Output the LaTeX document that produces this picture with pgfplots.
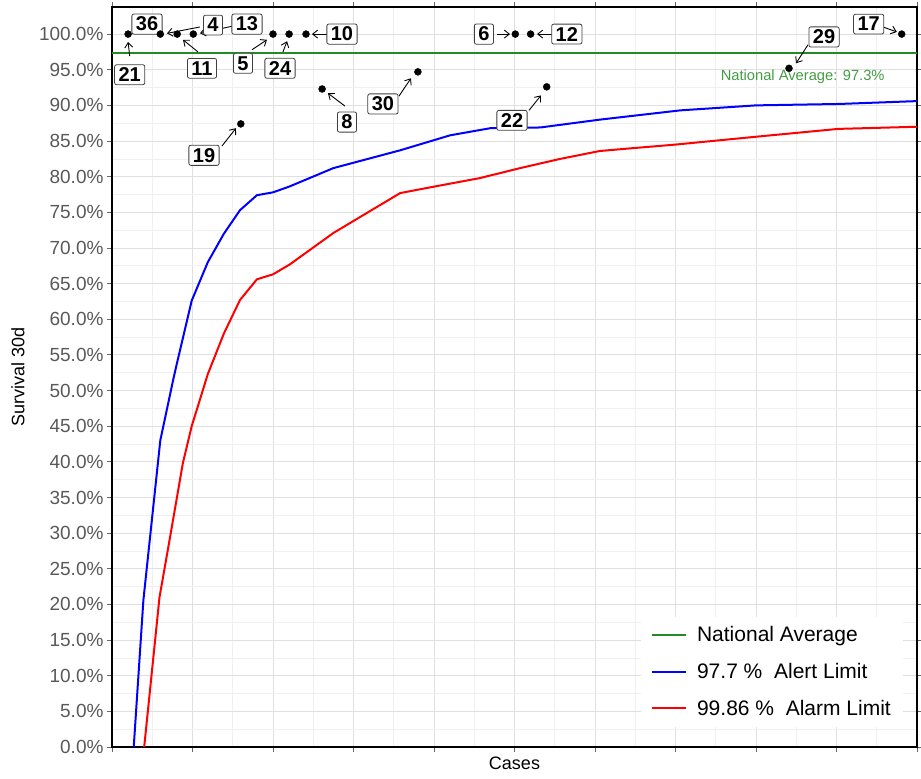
\documentclass[border=0pt]{standalone}
\usepackage{pgfplots}
\pgfplotsset{compat=1.18}
\usetikzlibrary{arrows.meta}
\usepackage{fontspec}
\setmainfont{Liberation Sans}
\definecolor{natgreen}{RGB}{34,139,34}
\begin{document}
\begin{tikzpicture}[
  lbl/.style={draw=black!75, fill=white, rounded corners=2pt, line width=0.8pt,
    font=\bfseries\fontsize{20}{22}\selectfont, inner xsep=4pt, inner ysep=3pt},
  arr/.style={-{Straight Barb[length=5pt,width=8pt]}, line width=0.9pt, black}
]
\begin{axis}[
  scale only axis, width=805pt, height=740pt,
  xmin=0, xmax=100, ymin=0, ymax=103.8,
  xtick={0,10,...,100}, minor xtick={5,15,...,95}, xticklabels={},
  ytick={0,5,...,100}, minor ytick={2.5,7.5,...,97.5},
  yticklabel={\pgfmathprintnumber[fixed,fixed zerofill,precision=1]{\tick}\%},
  /pgf/number format/assume math mode=true,
  grid=both,
  major grid style={draw=black!12, line width=0.8pt},
  minor grid style={draw=black!6, line width=0.6pt},
  axis line style={black, line width=2.2pt},
  tick align=outside, major tick style={black!60, line width=0.8pt},
  major tick length=5pt, minor tick length=0pt,
  ticklabel style={font=\fontsize{19}{21}\selectfont, text=black!65},
  xlabel={Cases}, ylabel={Survival 30d},
  xlabel style={at={(axis description cs:0.5,0)}, anchor=north, yshift=-6pt, font=\fontsize{18}{20}\selectfont},
  ylabel style={at={(axis description cs:-0.1168,0.5)}, anchor=center, font=\fontsize{18}{20}\selectfont},
  legend style={at={(1,0)}, anchor=south east, xshift=-14pt, yshift=20pt,
    draw=none, fill=white, font=\fontsize{21}{23}\selectfont,
    row sep=16pt, inner xsep=10pt, inner ysep=8pt},
  legend cell align=left,
  legend image code/.code={\draw[#1] (0pt,0pt) -- (34pt,0pt); \path (42pt,0pt);},
]
\addplot[natgreen, line width=2pt] coordinates {(0,97.3) (100,97.3)};
\addlegendentry{National Average}
\addplot[blue, line width=2pt] coordinates {
 (2.7,0) (3.9,20.6) (6.0,43) (7.6,51.5) (8.0,53.5) (9.9,62.6) (11.9,68) (13.9,72)
 (15.9,75.3) (18.0,77.4) (20,77.8) (22,78.6) (27.5,81.2) (35.8,83.7) (42,85.8)
 (47,86.8) (53.2,86.9) (60.6,88) (70.6,89.3) (80,90) (90.4,90.2) (100,90.6)};
\addlegendentry{97.7 \%\ \ Alert Limit}
\addplot[red, line width=2pt] coordinates {
 (4.0,0) (5.9,21) (7.3,30) (8.8,39.8) (9.9,45) (11.9,52.3) (13.9,58) (15.9,62.7)
 (18,65.6) (20,66.3) (22.1,67.7) (27.5,72.1) (35.8,77.7) (40,78.6) (45.7,79.8)
 (50.7,81.2) (55.7,82.5) (60.6,83.6) (64.7,84) (70,84.5) (80,85.6) (90.2,86.7) (100,87)};
\addlegendentry{99.86 \%\ \ Alarm Limit}
\addplot[only marks, mark=*, mark size=3.5pt, black, forget plot] coordinates {
 (2,100) (6,100) (8.1,100) (10.1,100) (20,100) (22,100) (24.1,100)
 (50.1,100) (52,100) (98.1,100) (84.1,95.2) (26.1,92.3) (16,87.4) (38,94.7) (54,92.6)};
% arrows
\draw[arr] (axis cs:2.2,96.9) -- (axis cs:2.0,98.9);
\draw[arr] (axis cs:10.93,101.0) -- (axis cs:6.83,100.1);
\draw[arr] (axis cs:14.9,101.1) -- (axis cs:10.93,100.1);
\draw[arr] (axis cs:10.68,97.5) -- (axis cs:8.82,99.2);
\draw[arr] (axis cs:17.39,97.8) -- (axis cs:19.25,99.2);
\draw[arr] (axis cs:21.24,97.5) -- (axis cs:21.74,99.0);
\draw[arr] (axis cs:26.7,100) -- (axis cs:24.84,100);
\draw[arr] (axis cs:47.83,100) -- (axis cs:49.44,100);
\draw[arr] (axis cs:54.66,100) -- (axis cs:52.8,100);
\draw[arr] (axis cs:28.94,89.9) -- (axis cs:26.83,91.7);
\draw[arr] (axis cs:13.66,84.3) -- (axis cs:15.4,86.8);
\draw[arr] (axis cs:35.65,91.3) -- (axis cs:37.14,93.8);
\draw[arr] (axis cs:51.8,89.3) -- (axis cs:53.29,91.4);
\draw[arr] (axis cs:86.46,98.5) -- (axis cs:84.97,95.9);
\draw[arr] (axis cs:95.78,101.0) -- (axis cs:97.5,100.3);
% labels
\node[lbl] at (axis cs:2.2,94.3) {21};
\node[lbl] at (axis cs:4.35,101.4) {36};
\node[lbl] at (axis cs:12.55,101.26) {4};
\node[lbl] at (axis cs:16.77,101.4) {13};
\node[lbl] at (axis cs:11.18,95.2) {11};
\node[lbl] at (axis cs:16.27,95.9) {5};
\node[lbl] at (axis cs:20.87,95.2) {24};
\node[lbl] at (axis cs:28.57,100) {10};
\node[lbl] at (axis cs:46.2,100) {6};
\node[lbl] at (axis cs:56.5,100) {12};
\node[lbl] at (axis cs:29.19,87.66) {8};
\node[lbl] at (axis cs:11.43,83.0) {19};
\node[lbl] at (axis cs:33.66,90.2) {30};
\node[lbl] at (axis cs:49.69,87.9) {22};
\node[lbl] at (axis cs:88.45,99.6) {29};
\node[lbl] at (axis cs:94.0,101.4) {17};
\node[text=natgreen!85!white, font=\fontsize{14.7}{16}\selectfont] at (axis cs:85.8,94.0) {National Average: 97.3\%};
\end{axis}
\pgfresetboundingbox
\path[use as bounding box] (-112pt,-32pt) rectangle (809pt,747pt);
\end{tikzpicture}
\end{document}
